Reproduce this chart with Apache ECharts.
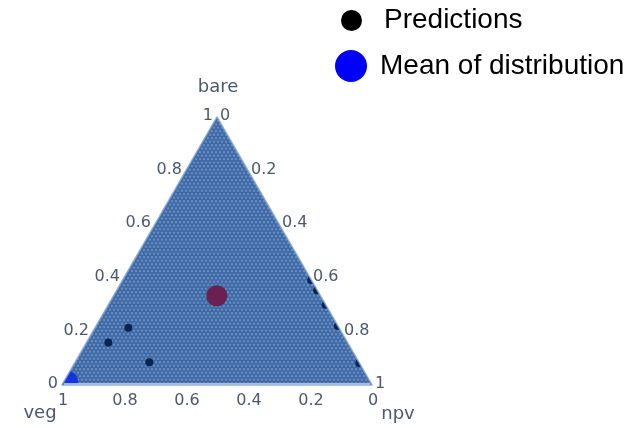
<!DOCTYPE html>
<html><head><meta charset="utf-8">
<script src="https://cdn.jsdelivr.net/npm/echarts@6/dist/echarts.min.js"></script>
<style>html,body{margin:0;padding:0;background:#fff}#c{width:640px;height:428px}</style>
</head><body><div id="c"></div>
<script>
// ---- data (ternary components: bare, veg, npv) ----
const axisTitles = ['bare', 'veg', 'npv'];
const tickValues = [0, 0.2, 0.4, 0.6, 0.8, 1];
const tickLabels = ['0', '0.2', '0.4', '0.6', '0.8', '1'];
const predBare = [0.214, 0.159, 0.085, 0.392, 0.354, 0.299, 0.220, 0.082];
const predVeg  = [0.679, 0.771, 0.676, 0.0, 0.0, 0.0, 0.0, 0.0];
const predNpv  = [0.107, 0.070, 0.239, 0.608, 0.646, 0.701, 0.780, 0.918];
const meanBare = [0.015];
const meanVeg  = [0.973];
const meanNpv  = [0.012];
const centerBare = [0.333];
const centerVeg  = [0.334];
const centerNpv  = [0.333];
const legendNames = ['Predictions', 'Mean of distribution'];

const H = Math.sqrt(3) / 2;
function toXY(bare, npv) { return [npv + bare / 2, bare * H]; }
function pts(b, n) { return b.map((v, i) => toXY(v, n[i])); }

// dotted texture for the filled simplex
const pc = document.createElement('canvas');
pc.width = 4; pc.height = 7;
const g = pc.getContext('2d');
g.fillStyle = '#3f69a3'; g.fillRect(0, 0, 4, 7);
g.fillStyle = '#6a90c6';
[[2, 1.75], [0, 5.25], [4, 5.25]].forEach(p => { g.beginPath(); g.arc(p[0], p[1], 1.15, 0, Math.PI * 2); g.fill(); });

const txtColor = '#4a5870';
const tickFont = 'DejaVu Sans';

const chart = echarts.init(document.getElementById('c'), null, {renderer: 'canvas'});
chart.setOption({
  animation: false,
  backgroundColor: '#fff',
  grid: {left: 62, top: 117, width: 310, height: 268},
  xAxis: {type: 'value', min: 0, max: 1, show: false},
  yAxis: {type: 'value', min: 0, max: H, show: false},
  legend: [
    {data: [{name: legendNames[0], itemStyle: {color: '#000', opacity: 1}}], left: 341, top: 6.5, padding: 0,
     itemWidth: 21, itemHeight: 21, icon: 'circle', selectedMode: false,
     textStyle: {fontFamily: 'Liberation Sans', fontSize: 28, color: '#000', padding: [0, 0, 0, 17]}},
    {data: [{name: legendNames[1], itemStyle: {color: '#0000ff', opacity: 1}}], left: 335, top: 50, padding: 0,
     itemWidth: 32, itemHeight: 32, icon: 'circle', selectedMode: false,
     textStyle: {fontFamily: 'Liberation Sans', fontSize: 28, color: '#000', padding: [0, 0, 0, 8]}}
  ],
  series: [
    {
      type: 'custom', name: 'region', z: 1, silent: true, data: [[0, 0]],
      renderItem: function (params, api) {
        const a = api.coord([0, 0]), b = api.coord([1, 0]), c = api.coord([0.5, H]);
        return {type: 'polygon', shape: {points: [a, b, c]},
          style: {fill: {image: pc, repeat: 'repeat'}}};
      }
    },
    {
      type: 'scatter', name: 'center', z: 2, data: pts(centerBare, centerNpv),
      symbolSize: 21, itemStyle: {color: '#6a2050', opacity: 1}
    },
    {
      type: 'scatter', name: legendNames[0], z: 3, data: pts(predBare, predNpv),
      symbolSize: 8, itemStyle: {color: '#0a2452', opacity: 1}
    },
    {
      type: 'scatter', name: legendNames[1], z: 3, data: pts(meanBare, meanNpv), clip: false,
      symbolSize: 20, itemStyle: {color: '#1535dc', opacity: 1}
    },
    {
      type: 'custom', name: 'mask', z: 4, silent: true, data: [[0, 0]],
      renderItem: function (params, api) {
        const A = api.coord([0, 0]), B = api.coord([1, 0]), C = api.coord([0.5, H]);
        const L1 = api.coord([-0.3, H + 0.1]), L2 = api.coord([-0.3, -0.1]);
        const R1 = api.coord([1.3, H + 0.1]), R2 = api.coord([1.3, -0.1]);
        return {type: 'group', children: [
          {type: 'polygon', shape: {points: [A, C, [C[0], L1[1]], L1, L2, [A[0], L2[1]]]}, style: {fill: '#fff'}},
          {type: 'polygon', shape: {points: [B, C, [C[0], R1[1]], R1, R2, [B[0], R2[1]]]}, style: {fill: '#fff'}},
          {type: 'polygon', shape: {points: [A, B, [B[0], B[1] + 40], [A[0], A[1] + 40]]}, style: {fill: '#fff'}},
          {type: 'polygon', shape: {points: [A, B, C]}, style: {fill: 'none', stroke: 'rgba(120,155,205,0.8)', lineWidth: 1.5, lineJoin: 'round'}},
          {type: 'line', shape: {x1: A[0] + 2, y1: A[1] - 1, x2: B[0] - 2, y2: B[1] - 1}, style: {stroke: 'rgba(170,195,230,0.9)', lineWidth: 2}}
        ]};
      }
    },
    {
      type: 'custom', name: 'labels', z: 5, silent: true, data: [[0, 0]],
      renderItem: function (params, api) {
        const ch = [];
        const ts = (t, al) => ({text: t, fill: txtColor, fontSize: 16, fontFamily: tickFont, align: al, verticalAlign: 'middle'});
        tickValues.forEach((t, i) => {
          const pl = api.coord(toXY(t, 0));
          ch.push({type: 'text', x: pl[0] - 4, y: pl[1] - 1, style: ts(tickLabels[i], 'right')});
          const pb = api.coord(toXY(0, 1 - t));
          ch.push({type: 'text', x: pb[0] + 1, y: pb[1] + 16, style: ts(tickLabels[i], 'center')});
          const pr = api.coord(toXY(1 - t, t));
          ch.push({type: 'text', x: pr[0] + 3, y: pr[1] - 1, style: ts(tickLabels[i], 'left')});
        });
        const ttl = (t, x, y) => ({type: 'text', x: x, y: y, style: {text: t, fill: txtColor, fontSize: 18, fontFamily: tickFont, align: 'center', verticalAlign: 'middle'}});
        const top = api.coord(toXY(1, 0)), bl = api.coord(toXY(0, 0)), br = api.coord(toXY(0, 1));
        ch.push(ttl(axisTitles[0], top[0] + 1, top[1] - 30));
        ch.push(ttl(axisTitles[1], bl[0] - 22, bl[1] + 28));
        ch.push(ttl(axisTitles[2], br[0] + 26, br[1] + 29));
        return {type: 'group', children: ch};
      }
    }
  ]
});
</script>
</body></html>
